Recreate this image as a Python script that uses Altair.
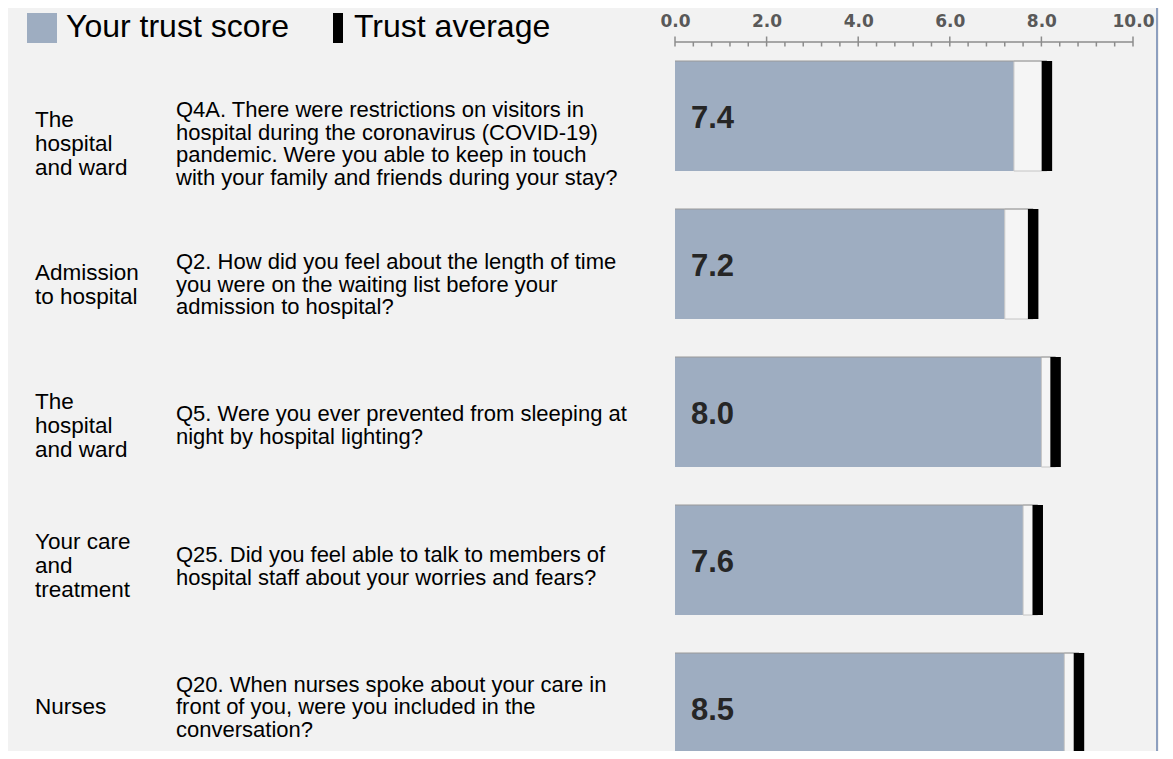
import altair as alt
import pandas as pd

# ---------------- data ----------------
categories = [
    "The\nhospital\nand ward",
    "Admission\nto hospital",
    "The\nhospital\nand ward",
    "Your care\nand\ntreatment",
    "Nurses",
]
questions = [
    "Q4A. There were restrictions on visitors in\nhospital during the coronavirus (COVID-19)\npandemic. Were you able to keep in touch\nwith your family and friends during your stay?",
    "Q2. How did you feel about the length of time\nyou were on the waiting list before your\nadmission to hospital?",
    "Q5. Were you ever prevented from sleeping at\nnight by hospital lighting?",
    "Q25. Did you feel able to talk to members of\nhospital staff about your worries and fears?",
    "Q20. When nurses spoke about your care in\nfront of you, were you included in the\nconversation?",
]
scores = [7.4, 7.2, 8.0, 7.6, 8.5]
averages = [8.12, 7.82, 8.31, 7.92, 8.82]
axis_ticks = [0, 2, 4, 6, 8, 10]
minor_ticks = [0.4, 0.8, 1.2, 1.6, 2.4, 2.8, 3.2, 3.6, 4.4, 4.8,
               5.2, 5.6, 6.4, 6.8, 7.2, 7.6, 8.4, 8.8, 9.2, 9.6]
legend_labels = ["Your trust score", "Trust average"]

SCORE_COLOR = "#9eadc1"
FONT = "Liberation Sans"
CAT_LH = 24
Q_LH = 22.5
PLOT_H = 709

df = pd.DataFrame({
    "row": list(range(len(scores))),
    "category": categories,
    "question": questions,
    "score": scores,
    "avg": averages,
    "label": [f"{s:.1f}" for s in scores],
    "zero": [0] * len(scores),
})

xs = alt.Scale(domain=[0, 10], nice=False, zero=True)
band = alt.Scale(type="band", range=[0, 740], paddingInner=38 / 148, paddingOuter=19 / 148)
yb = alt.Y("row:O", scale=band, axis=None)
yt = alt.Y("row:O", scale=alt.Scale(type="point", range=[102, 665], padding=0), axis=None)

base = alt.Chart(df)

score_bar = base.mark_bar(color=SCORE_COLOR).encode(
    x=alt.X("score:Q", scale=xs,
            axis=alt.Axis(orient="top", values=axis_ticks, format=".1f", domain=False,
                          ticks=False, grid=False, labelFont="DejaVu Sans",
                          labelFontWeight="bold", labelFontSize=17, labelColor="#595959",
                          labelPadding=16, labelBaseline="alphabetic", labelFlush=False,
                          labelOverlap=False, title=None)),
    x2=alt.X2("zero:Q"),
    y=yb,
)

white_box = base.mark_bar(fill="#f5f5f5", stroke="#c4c4c4", strokeWidth=1).encode(
    x=alt.X("score:Q", scale=xs), x2="avg:Q", y=yb
)

top_rule = base.mark_rule(color="#9a9a9a", strokeWidth=1).encode(
    x=alt.X("zero:Q", scale=xs), x2="avg:Q",
    y=alt.Y("row:O", scale=band, axis=None, bandPosition=0),
)

avg_tick = base.mark_tick(color="black", thickness=10.5, size=110, opacity=1).encode(
    x=alt.X("avg:Q", scale=xs), y=yb
)

value_text = base.mark_text(align="left", baseline="middle", font=FONT, fontWeight="bold",
                            fontSize=31, color="#262626", dy=3).encode(
    x=alt.value(16), y=yb, text="label:N"
)

# multi-line texts: shift each block up by half its extra lines so it is centred on its row
cat_text = base.transform_calculate(
    off=f"-(length(split(datum.category, '\\n')) - 1) * {CAT_LH} / 2"
).mark_text(align="left", baseline="middle", lineBreak="\n", font=FONT,
            fontSize=22.5, lineHeight=CAT_LH, color="black").encode(
    x=alt.value(-640), y=yt, yOffset=alt.YOffset("off:Q", scale=None), text="category:N"
)

q_text = base.transform_calculate(
    off=f"-(length(split(datum.question, '\\n')) - 1) * {Q_LH} / 2"
).mark_text(align="left", baseline="middle", lineBreak="\n", font=FONT,
            fontSize=22, lineHeight=Q_LH, color="black").encode(
    x=alt.value(-499), y=yt, yOffset=alt.YOffset("off:Q", scale=None), text="question:N"
)

# hand-drawn axis line and ticks (through the x scale)
domain_rule = alt.Chart(pd.DataFrame({"a": [axis_ticks[0]], "b": [axis_ticks[-1]]})).mark_rule(
    color="#8c8c8c", strokeWidth=1.5).encode(
    x=alt.X("a:Q", scale=xs), x2="b:Q", y=alt.value(0)
)
major = alt.Chart(pd.DataFrame({"v": axis_ticks})).mark_rule(color="#8c8c8c", strokeWidth=1.5).encode(
    x=alt.X("v:Q", scale=xs), y=alt.value(-5.5), y2=alt.value(4.5)
)
minor = alt.Chart(pd.DataFrame({"v": minor_ticks})).mark_rule(color="#8c8c8c", strokeWidth=1.5).encode(
    x=alt.X("v:Q", scale=xs), y=alt.value(0), y2=alt.value(4.5)
)

# legend
leg1 = pd.DataFrame({"label": [legend_labels[0]]})
leg2 = pd.DataFrame({"label": [legend_labels[1]]})
leg_sq = alt.Chart(leg1).mark_rect(color=SCORE_COLOR).encode(
    x=alt.value(-648), x2=alt.value(-618), y=alt.value(-29), y2=alt.value(1)
)
leg_blk = alt.Chart(leg2).mark_rect(color="black").encode(
    x=alt.value(-342), x2=alt.value(-332), y=alt.value(-29), y2=alt.value(1)
)
leg_t1 = alt.Chart(leg1).mark_text(align="left", baseline="middle", font=FONT, fontSize=32,
                                   color="black").encode(
    x=alt.value(-609), y=alt.value(-15), text="label:N"
)
leg_t2 = alt.Chart(leg2).mark_text(align="left", baseline="middle", font=FONT, fontSize=32,
                                   color="black").encode(
    x=alt.value(-321), y=alt.value(-15), text="label:N"
)

border = alt.Chart(leg1).mark_rule(color="#8d9fbf", strokeWidth=2).encode(
    x=alt.value(482), y=alt.value(-34), y2=alt.value(PLOT_H)
)

chart = alt.layer(
    score_bar, white_box, top_rule, avg_tick, value_text, cat_text, q_text,
    domain_rule, major, minor, leg_sq, leg_blk, leg_t1, leg_t2, border
).resolve_scale(y="independent").properties(
    width=458, height=PLOT_H, background="#f2f2f2",
    padding={"left": 667, "top": 34, "right": 26, "bottom": 0},
    autosize=alt.AutoSizeParams(type="none"),
).configure(font=FONT, view=alt.ViewConfig(stroke=None))

chart.save("out.html", embed_options={"renderer": "svg", "actions": False})
